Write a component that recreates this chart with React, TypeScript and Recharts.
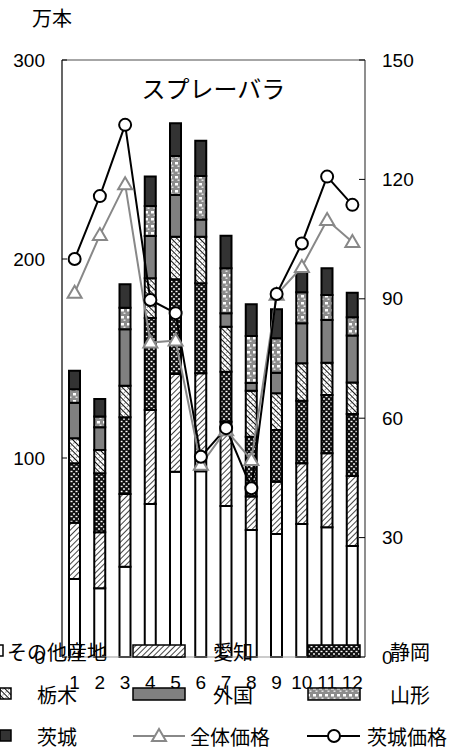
import React from "react";
import {
  ComposedChart,
  Bar,
  Line,
  XAxis,
  YAxis,
  ReferenceLine,
} from "recharts";

const months = ["1", "2", "3", "4", "5", "6", "7", "8", "9", "10", "11", "12"];

// 万本, stacked bottom → top
const sonota = [39.2, 34.5, 45.4, 76.9, 93.1, 93.3, 75.9, 63.8, 61.8, 66.8, 65.2, 55.8];
const aichi = [28.3, 28.2, 36.5, 47.2, 49.1, 49.3, 42.3, 16.8, 26.3, 30.5, 37.2, 35.2];
const shizuoka = [29.8, 29.6, 38.6, 46.3, 47.6, 45.2, 25.2, 30.1, 26.0, 31.5, 29.3, 31.1];
const tochigi = [12.6, 11.7, 15.8, 19.9, 21.4, 23.4, 22.6, 23.1, 18.4, 18.8, 16.2, 15.9];
const gaikoku = [17.9, 11.4, 28.4, 21.3, 21.0, 8.7, 6.7, 3.9, 10.4, 20.1, 21.4, 23.5];
const yamagata = [6.7, 5.4, 10.8, 15.0, 19.6, 21.8, 22.6, 23.6, 17.3, 15.6, 12.6, 9.2];
const ibaraki = [9.4, 8.8, 11.8, 14.8, 16.4, 17.7, 16.4, 15.9, 14.5, 10.3, 13.4, 12.4];

// 円/本 (right axis)
const zentaiPrice = [91.5, 106.0, 118.8, 79.0, 79.5, 48.3, 57.0, 49.5, 91.0, 98.0, 109.8, 104.3];
const ibarakiPrice = [100.0, 115.8, 133.7, 89.7, 86.4, 50.3, 57.5, 42.4, 91.2, 103.9, 120.7, 113.6];

const leftTicks = [0, 100, 200, 300];
const rightTicks = [0, 30, 60, 90, 120, 150];

const data = months.map((m, i) => ({
  month: m,
  sonota: sonota[i],
  aichi: aichi[i],
  shizuoka: shizuoka[i],
  tochigi: tochigi[i],
  gaikoku: gaikoku[i],
  yamagata: yamagata[i],
  ibaraki: ibaraki[i],
  zentai: zentaiPrice[i],
  ibarakiP: ibarakiPrice[i],
}));

const FONT = "'Liberation Sans', Arial, 'Noto Sans CJK JP', sans-serif";
const JP = "'Noto Sans CJK JP', sans-serif";

const fills = {
  sonota: "#ffffff",
  aichi: "url(#pAichi)",
  shizuoka: "url(#pShizuoka)",
  tochigi: "url(#pTochigi)",
  gaikoku: "#808080",
  yamagata: "url(#pYamagata)",
  ibaraki: "#333333",
};

const stackKeys = ["sonota", "aichi", "shizuoka", "tochigi", "gaikoku", "yamagata", "ibaraki"] as const;

function Patterns() {
  return (
    <defs>
      <pattern id="pAichi" width="4" height="4" patternUnits="userSpaceOnUse" patternTransform="rotate(45)">
        <rect width="4" height="4" fill="#fff" />
        <line x1="0" y1="0" x2="0" y2="4" stroke="#444" strokeWidth="2" />
      </pattern>
      <pattern id="pShizuoka" width="5" height="5" patternUnits="userSpaceOnUse">
        <rect width="5" height="5" fill="#111" />
        <rect x="0.5" y="0.8" width="2" height="1.4" fill="#fff" />
        <rect x="3" y="3.3" width="2" height="1.4" fill="#fff" />
      </pattern>
      <pattern id="pTochigi" width="4" height="4" patternUnits="userSpaceOnUse" patternTransform="rotate(-45)">
        <rect width="4" height="4" fill="#fff" />
        <line x1="0" y1="0" x2="0" y2="4" stroke="#111" strokeWidth="2" />
        <rect x="2.4" y="1" width="1" height="1" fill="#555" />
      </pattern>
      <pattern id="pYamagata" width="6" height="7" patternUnits="userSpaceOnUse">
        <rect width="6" height="7" fill="#8c8c8c" />
        <rect x="1" y="1" width="3" height="2.5" fill="#fff" />
        <rect x="3.5" y="4.5" width="2" height="1.5" fill="#e0e0e0" />
      </pattern>
    </defs>
  );
}

const TriangleDot = (props: any) => {
  const { cx, cy } = props;
  if (cx == null || cy == null) return null;
  return (
    <path
      d={`M${cx},${cy - 7} L${cx + 7},${cy + 5} L${cx - 7},${cy + 5} Z`}
      fill="#fff"
      stroke="#888"
      strokeWidth={2}
    />
  );
};

const LeftTick = (props: any) => {
  const { x, y, payload } = props;
  return (
    <g>
      <line x1={62} x2={67} y1={y} y2={y} stroke="#000" />
      <text x={x} y={y} textAnchor="end" dominantBaseline="central" fontSize={19} fill="#000" fontFamily={FONT}>
        {payload.value}
      </text>
    </g>
  );
};

const RightTick = (props: any) => {
  const { x, y, payload } = props;
  return (
    <g>
      <line x1={359} x2={365} y1={y} y2={y} stroke="#000" />
      <text x={x} y={y} textAnchor="start" dominantBaseline="central" fontSize={19} fill="#000" fontFamily={FONT}>
        {payload.value}
      </text>
    </g>
  );
};

const BottomTick = (props: any) => {
  const { x, y, payload } = props;
  return (
    <text x={x} y={y} dy={24} textAnchor="middle" fontSize={19} fill="#000" fontFamily={FONT}>
      {payload.value}
    </text>
  );
};

// legend entries placed where the reference puts them
const legendItems: { label: string; key: string; kind: string; ix: number; tx: number; y: number }[] = [
  { label: "その他産地", key: "sonota", kind: "sq", ix: -8, tx: 7, y: 651 },
  { label: "愛知", key: "aichi", kind: "wide", ix: 133, tx: 213, y: 651 },
  { label: "静岡", key: "shizuoka", kind: "wide", ix: 308, tx: 390, y: 651 },
  { label: "栃木", key: "tochigi", kind: "sq", ix: 0, tx: 37, y: 694 },
  { label: "外国", key: "gaikoku", kind: "wide", ix: 133, tx: 213, y: 694 },
  { label: "山形", key: "yamagata", kind: "wide", ix: 308, tx: 390, y: 694 },
  { label: "茨城", key: "ibaraki", kind: "sq", ix: 0, tx: 37, y: 736 },
  { label: "全体価格", key: "zentai", kind: "tri", ix: 133, tx: 190, y: 736 },
  { label: "茨城価格", key: "ibarakiP", kind: "circ", ix: 307, tx: 367, y: 736 },
];

function LegendLayer() {
  return (
    <svg width={457} height={755} style={{ position: "absolute", left: 0, top: 0, pointerEvents: "none" }}>
      {legendItems.map((it) => {
        let icon: React.ReactNode = null;
        if (it.kind === "sq") {
          icon = (
            <rect x={it.ix} y={it.y - 6} width={11} height={11} fill={(fills as any)[it.key]} stroke="#000" strokeWidth={1.5} />
          );
        } else if (it.kind === "wide") {
          icon = (
            <rect x={it.ix} y={it.y - 6} width={52} height={12} fill={(fills as any)[it.key]} stroke="#000" strokeWidth={1.5} />
          );
        } else if (it.kind === "tri") {
          const cx = it.ix + 26;
          icon = (
            <g>
              <line x1={it.ix} x2={it.ix + 52} y1={it.y} y2={it.y} stroke="#888" strokeWidth={2} />
              <path d={`M${cx},${it.y - 7} L${cx + 7},${it.y + 5} L${cx - 7},${it.y + 5} Z`} fill="#fff" stroke="#888" strokeWidth={2} />
            </g>
          );
        } else {
          const cx = it.ix + 27;
          icon = (
            <g>
              <line x1={it.ix} x2={it.ix + 53} y1={it.y} y2={it.y} stroke="#000" strokeWidth={2} />
              <circle cx={cx} cy={it.y} r={6} fill="#fff" stroke="#000" strokeWidth={2} />
            </g>
          );
        }
        return (
          <g key={it.key}>
            {icon}
            <text x={it.tx} y={it.y} dominantBaseline="central" fontSize={20} fill="#000" fontFamily={JP}>
              {it.label}
            </text>
          </g>
        );
      })}
    </svg>
  );
}

export default function App() {
  return (
    <div style={{ position: "absolute", left: 0, top: 0, width: 457, height: 755, background: "#fff" }}>
      <ComposedChart
        width={457}
        height={755}
        data={data}
        margin={{ top: 60, right: 0, bottom: 68, left: 0 }}
        barCategoryGap={0}
      >
        <Patterns />
        <XAxis
          dataKey="month"
          height={30}
          tick={<BottomTick />}
          tickLine={false}
          axisLine={{ stroke: "#999" }}
          interval={0}
        />
        <YAxis
          yAxisId="left"
          orientation="left"
          width={62}
          domain={[0, 300]}
          ticks={leftTicks}
          tick={<LeftTick />}
          tickSize={6}
          tickMargin={11}
          tickLine={false}
          axisLine={{ stroke: "#000", strokeWidth: 1.2 }}
          interval={0}
        />
        <YAxis
          yAxisId="right"
          orientation="right"
          width={92}
          domain={[0, 150]}
          ticks={rightTicks}
          tick={<RightTick />}
          tickSize={6}
          tickMargin={11}
          tickLine={false}
          axisLine={{ stroke: "#444", strokeWidth: 1.2 }}
          interval={0}
        />
        <ReferenceLine yAxisId="left" y={300} stroke="#888" strokeWidth={1.5} />
        {stackKeys.map((k) => (
          <Bar
            key={k}
            yAxisId="left"
            dataKey={k}
            stackId="s"
            barSize={11}
            fill={fills[k]}
            stroke="#000"
            strokeWidth={2}
            isAnimationActive={false}
          />
        ))}
        <Line
          yAxisId="right"
          dataKey="zentai"
          stroke="#888"
          strokeWidth={2}
          dot={<TriangleDot />}
          activeDot={false}
          isAnimationActive={false}
        />
        <Line
          yAxisId="right"
          dataKey="ibarakiP"
          stroke="#000"
          strokeWidth={2}
          dot={{ r: 6, fill: "#fff", stroke: "#000", strokeWidth: 2 }}
          activeDot={false}
          isAnimationActive={false}
        />
      </ComposedChart>
      <div style={{ position: "absolute", left: 32, top: 6, fontSize: 20, fontFamily: JP, lineHeight: "24px" }}>万本</div>
      <div
        style={{
          position: "absolute",
          left: 62,
          width: 303,
          top: 73,
          textAlign: "center",
          fontSize: 24,
          fontFamily: JP,
          lineHeight: "30px",
        }}
      >
        スプレーバラ
      </div>
      <LegendLayer />
    </div>
  );
}
